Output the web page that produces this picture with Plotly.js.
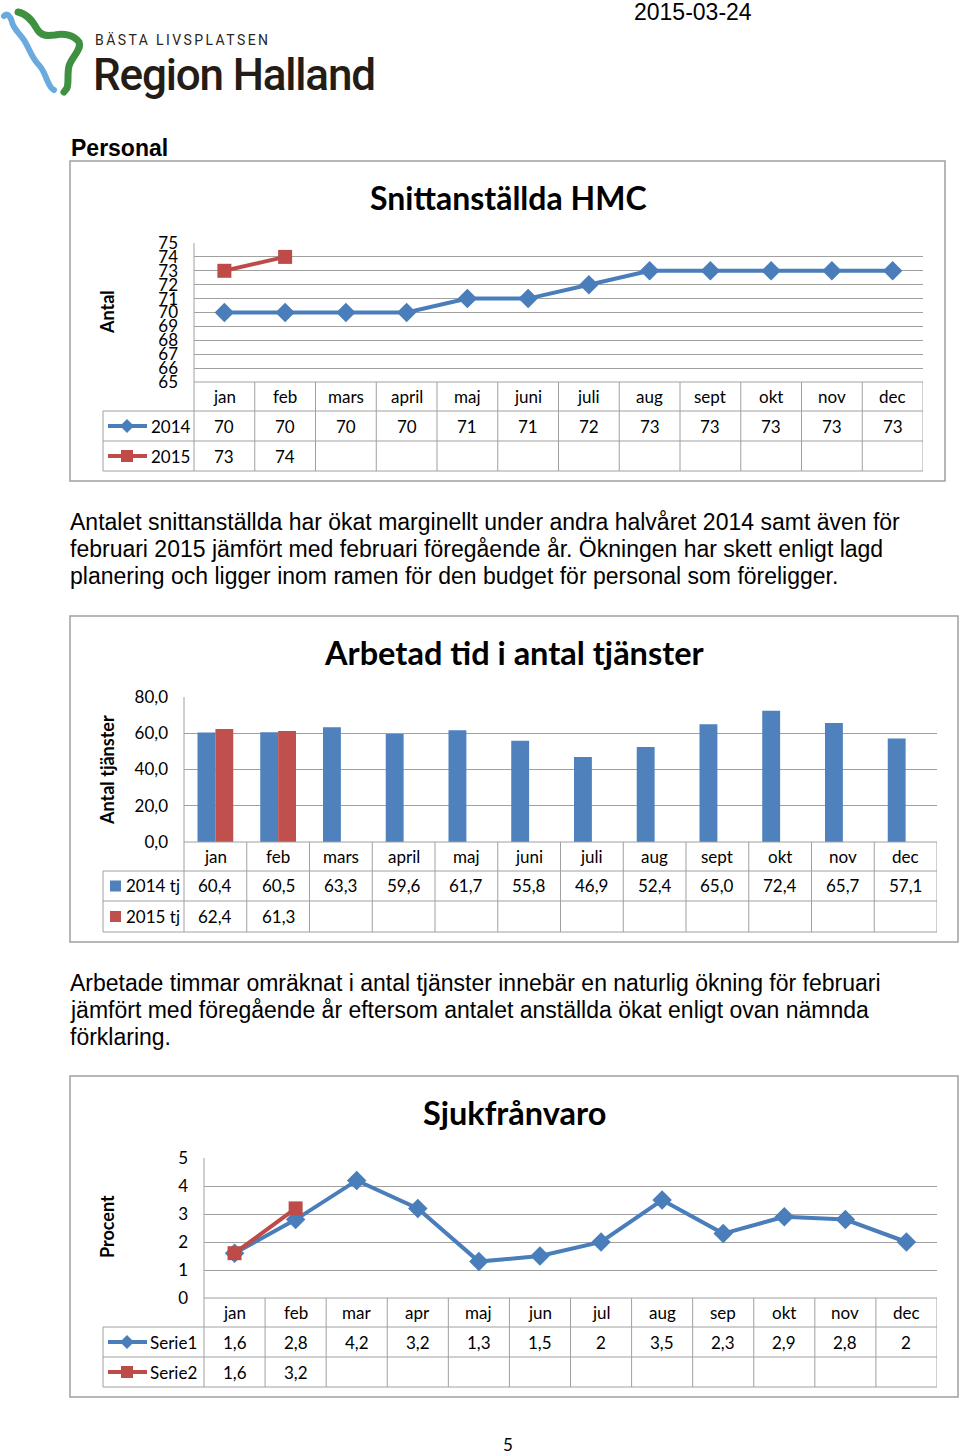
<!DOCTYPE html>
<html>
<head>
<meta charset="utf-8">
<script src="https://cdn.plot.ly/plotly-3.0.1.min.js"></script>
<style>
  body { margin: 0; background: #fff; }
  #page { position: absolute; left: 0; top: 0; width: 960px; height: 1456px; }
  #logo { position: absolute; left: 0; top: 0; z-index: 5; }
</style>
</head>
<body>
<div id="page"></div>
<svg id="logo" width="400" height="100" viewBox="0 0 400 100">
  <path d="M4,16 C7,12 11,17 12,22 C13,28 19,33 24,40 C29,48 32,58 38,64 C44,70 45,76 48,82 C50,87 52,89 54,90"
        fill="none" stroke="#6aaadf" stroke-width="6" stroke-linecap="round"/>
  <path d="M18,12 C27,14 32,20 37,29 C41,36 47,36 55,35 C64,33 74,35 79,42 C82,50 72,56 69,66 C67,74 69,82 67,88 L64,92"
        fill="none" stroke="#3e9140" stroke-width="7" stroke-linecap="round"/>
  <text x="95" y="45" font-family="Roboto" font-size="14" textLength="173" fill="#2b2420">BÄSTA LIVSPLATSEN</text>
  <text x="93" y="90" font-family="Roboto" font-weight="500" font-size="44" textLength="283" fill="#231c17">Region Halland</text>
</svg>
<script>
// Snittanställda HMC
var monthsLong = ["jan", "feb", "mars", "april", "maj", "juni", "juli", "aug", "sept", "okt", "nov", "dec"];
var hmc2014 = [70, 70, 70, 70, 71, 71, 72, 73, 73, 73, 73, 73];
var hmc2015 = [73, 74];

// Arbetad tid i antal tjänster
var tj2014 = [60.4, 60.5, 63.3, 59.6, 61.7, 55.8, 46.9, 52.4, 65.0, 72.4, 65.7, 57.1];
var tj2015 = [62.4, 61.3];

// Sjukfrånvaro
var monthsShort = ["jan", "feb", "mar", "apr", "maj", "jun", "jul", "aug", "sep", "okt", "nov", "dec"];
var serie1 = [1.6, 2.8, 4.2, 3.2, 1.3, 1.5, 2, 3.5, 2.3, 2.9, 2.8, 2];
var serie2 = [1.6, 3.2];

var W = 960, H = 1456;
var BLUE = "#4A7EBB", RED = "#BE4B48";
var BAR_BLUE = "#4F81BD", BAR_RED = "#C0504D";
var GRID = "#a0a0a0";
var CHART_FONT = "Lato";
var TEXT_FONT = "Liberation Sans";

function X(px) { return px / W; }
function Y(py) { return 1 - py / H; }

var shapes = [];
var notes = [];

function note(text, x, y, o) {
  o = o || {};
  notes.push({
    text: text, x: x, y: y,
    xref: o.xref || "paper", yref: "paper",
    xanchor: o.xanchor || "center", yanchor: "middle",
    showarrow: false, textangle: o.angle || 0,
    font: { family: o.family || CHART_FONT, size: o.size || 17, color: "#000" }
  });
}

function seg(x0, y0, x1, y1, o) {
  o = o || {};
  shapes.push({
    type: "line", xref: o.xref || "paper", yref: "paper",
    x0: x0, y0: y0, x1: x1, y1: y1,
    line: { color: o.color || GRID, width: o.width || 1 }
  });
}

function box(x0, y0, x1, y1, o) {
  shapes.push({
    type: "rect", xref: "paper", yref: "paper",
    x0: X(x0), y0: Y(y0), x1: X(x1), y1: Y(y1),
    fillcolor: o.fill || "rgba(0,0,0,0)",
    line: { color: o.line || o.fill, width: o.width || 0 }
  });
}

function diamond(cx, cy, r, color) {
  var p = "M " + X(cx) + " " + Y(cy - r) + " L " + X(cx + r) + " " + Y(cy) +
          " L " + X(cx) + " " + Y(cy + r) + " L " + X(cx - r) + " " + Y(cy) + " Z";
  shapes.push({ type: "path", xref: "paper", yref: "paper", path: p,
                fillcolor: color, line: { color: color, width: 0 } });
}

// data table under a chart: header row of categories, one row per series
function dataTable(t) {
  var bottom = t.rows[t.rows.length - 1];
  seg(X(t.plotLeft), Y(t.top), X(t.right), Y(t.top));
  t.rows.forEach(function (r) { seg(X(t.left), Y(r), X(t.right), Y(r)); });
  seg(X(t.left), Y(t.rows[0]), X(t.left), Y(bottom));
  seg(X(t.plotLeft), Y(t.plotTop), X(t.plotLeft), Y(bottom));
  for (var i = 1; i <= t.cats.length; i++) {
    seg(i - 0.5, Y(t.top), i - 0.5, Y(bottom), { xref: t.xa });
  }
  t.cats.forEach(function (c, i) {
    note(c, i, Y((t.top + t.rows[0]) / 2), { xref: t.xa });
  });
  t.series.forEach(function (s, k) {
    var cy = (t.rows[k] + t.rows[k + 1]) / 2;
    if (s.key === "box") {
      box(110, cy - 5.5, 121, cy + 5.5, { fill: s.color });
    } else {
      seg(X(108), Y(cy), X(147), Y(cy), { color: s.color, width: 4 });
      if (s.key === "diamond") diamond(127, cy, 7, s.color);
      else box(121, cy - 6, 133, cy + 6, { fill: s.color });
    }
    note(s.name, X(s.textX), Y(cy), { xanchor: "left" });
    s.values.forEach(function (v, i) {
      note(s.fmt(v), i, Y(cy), { xref: t.xa });
    });
  });
}

function comma1(v) { return v.toFixed(1).replace(".", ","); }
function comma(v) { return String(v).replace(".", ","); }
function plain(v) { return String(v); }

// frames round the three charts
box(70, 161, 945, 481, { line: GRID, width: 1.5 });
box(70, 616, 958, 942, { line: GRID, width: 1.5 });
box(70, 1076, 958, 1397, { line: GRID, width: 1.5 });

dataTable({
  xa: "x", left: 103, plotLeft: 194, right: 923, plotTop: 243, top: 382,
  rows: [411, 441, 471], cats: monthsLong,
  series: [
    { name: "2014", values: hmc2014, fmt: plain, key: "diamond", color: BLUE, textX: 149 },
    { name: "2015", values: hmc2015, fmt: plain, key: "square", color: RED, textX: 149 }
  ]
});
dataTable({
  xa: "x2", left: 103, plotLeft: 184, right: 937, plotTop: 697, top: 842,
  rows: [871, 901, 932], cats: monthsLong,
  series: [
    { name: "2014 tj", values: tj2014, fmt: comma1, key: "box", color: BAR_BLUE, textX: 124 },
    { name: "2015 tj", values: tj2015, fmt: comma1, key: "box", color: BAR_RED, textX: 124 }
  ]
});
dataTable({
  xa: "x3", left: 103, plotLeft: 204, right: 937, plotTop: 1158, top: 1298,
  rows: [1327, 1357, 1387], cats: monthsShort,
  series: [
    { name: "Serie1", values: serie1, fmt: comma, key: "diamond", color: BLUE, textX: 148 },
    { name: "Serie2", values: serie2, fmt: comma, key: "square", color: RED, textX: 148 }
  ]
});

// page texts
note("2015-03-24", X(693), Y(12), { family: TEXT_FONT, size: 23 });
note("<b>Personal</b>", X(69), Y(148), { family: TEXT_FONT, size: 23, xanchor: "left" });

note("<b>Snittanställda HMC</b>", X(508), Y(198), { size: 32 });
note("<b>Antal</b>", X(107), Y(312), { size: 18, angle: -90 });

note("<b>Arbetad tid i antal tjänster</b>", X(514), Y(652), { size: 32.5 });
note("<b>Antal tjänster</b>", X(107), Y(770), { size: 18, angle: -90 });

note("<b>Sjukfrånvaro</b>", X(514), Y(1112), { size: 32.5 });
note("<b>Procent</b>", X(107), Y(1227), { size: 18, angle: -90 });

var para1 = [
  "Antalet snittanställda har ökat marginellt under andra halvåret 2014 samt även för",
  "februari 2015 jämfört med februari föregående år. Ökningen har skett enligt lagd",
  "planering och ligger inom ramen för den budget för personal som föreligger."
];
var para2 = [
  "Arbetade timmar omräknat i antal tjänster innebär en naturlig ökning för februari",
  "jämfört med föregående år eftersom antalet anställda ökat enligt ovan nämnda",
  "förklaring."
];
para1.forEach(function (s, i) {
  note(s, X(68), Y(522 + 27 * i), { family: TEXT_FONT, size: 23, xanchor: "left" });
});
para2.forEach(function (s, i) {
  note(s, X(68), Y(983 + 27 * i), { family: TEXT_FONT, size: 23, xanchor: "left" });
});
note("5", X(508), Y(1444), { size: 17 });

var data = [
  {
    type: "scatter", mode: "lines+markers", name: "2014",
    x: monthsLong, y: hmc2014, xaxis: "x", yaxis: "y",
    line: { color: BLUE, width: 4 },
    marker: { symbol: "diamond", size: 15, color: BLUE }
  },
  {
    type: "scatter", mode: "lines+markers", name: "2015",
    x: monthsLong.slice(0, hmc2015.length), y: hmc2015, xaxis: "x", yaxis: "y",
    line: { color: RED, width: 4 },
    marker: { symbol: "square", size: 14, color: RED }
  },
  {
    type: "bar", name: "2014 tj",
    x: monthsLong, y: tj2014, xaxis: "x2", yaxis: "y2",
    marker: { color: BAR_BLUE }
  },
  {
    type: "bar", name: "2015 tj",
    x: monthsLong.slice(0, tj2015.length), y: tj2015, xaxis: "x2", yaxis: "y2",
    marker: { color: BAR_RED }
  },
  {
    type: "scatter", mode: "lines+markers", name: "Serie1",
    x: monthsShort, y: serie1, xaxis: "x3", yaxis: "y3",
    line: { color: BLUE, width: 4 },
    marker: { symbol: "diamond", size: 15, color: BLUE }
  },
  {
    type: "scatter", mode: "lines+markers", name: "Serie2",
    x: monthsShort.slice(0, serie2.length), y: serie2, xaxis: "x3", yaxis: "y3",
    line: { color: RED, width: 4 },
    marker: { symbol: "square", size: 14, color: RED }
  }
];

function catAxis(x0, x1, anchor) {
  return {
    domain: [X(x0), X(x1)], anchor: anchor, type: "category", range: [-0.5, 11.5],
    showticklabels: false, showgrid: false, zeroline: false, showline: false, ticks: ""
  };
}
function valAxis(top, bottom, anchor, range, dtick, fmt) {
  return {
    domain: [Y(bottom), Y(top)], anchor: anchor, range: range, dtick: dtick,
    tickformat: fmt, showgrid: true, gridcolor: GRID, gridwidth: 1,
    zeroline: false, showline: false, ticks: "", ticklabelstandoff: 15,
    tickfont: { family: CHART_FONT, size: 17, color: "#000" }
  };
}

var layout = {
  width: W, height: H,
  margin: { l: 0, r: 0, t: 0, b: 0 },
  paper_bgcolor: "#fff", plot_bgcolor: "rgba(0,0,0,0)",
  showlegend: false, hovermode: false,
  separators: ",.",
  barmode: "group", bargap: 0.43, bargroupgap: 0,
  xaxis: catAxis(194, 923, "y"),
  yaxis: valAxis(243, 382, "x", [65, 75], 1, "d"),
  xaxis2: catAxis(184, 937, "y2"),
  yaxis2: valAxis(697, 842, "x2", [0, 80], 20, ".1f"),
  xaxis3: catAxis(204, 937, "y3"),
  yaxis3: valAxis(1158, 1298, "x3", [0, 5], 1, "d"),
  shapes: shapes,
  annotations: notes
};

Plotly.newPlot(document.getElementById("page"), data, layout, { displayModeBar: false, staticPlot: true });
</script>
</body>
</html>
